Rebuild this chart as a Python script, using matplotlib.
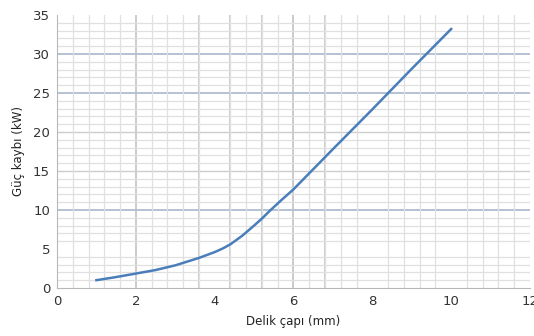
import matplotlib
matplotlib.use("Agg")
import matplotlib.pyplot as plt
from matplotlib.ticker import MultipleLocator

# hole diameter (mm) vs. power loss (kW)
diameter_mm = [1, 1.5, 2, 2.5, 3, 3.6, 4, 4.2, 4.4, 4.7, 5, 5.2, 5.4, 5.7, 6, 7, 8, 9, 10]
power_kw = [1.0, 1.4, 1.85, 2.3, 2.9, 3.85, 4.6, 5.05, 5.6, 6.7, 8.0, 8.9, 9.9, 11.3, 12.65,
            17.8, 22.9, 28.1, 33.2]

x_ticks = [0, 2, 4, 6, 8, 10, 12]
y_ticks = [0, 5, 10, 15, 20, 25, 30, 35]

plt.rcParams["font.family"] = ["DejaVu Sans"]

fig = plt.figure(figsize=(5.34, 3.36), dpi=100)
ax = fig.add_axes([0.1067, 0.1429, 0.8858, 0.8125])

# graph-paper style grid
ax.xaxis.set_minor_locator(MultipleLocator(0.4))
ax.yaxis.set_minor_locator(MultipleLocator(1))
ax.grid(which="minor", color="#e0e0e0", linewidth=0.9)
ax.grid(which="major", visible=False)
for xv in [2, 3.6, 4.4, 5.2, 6, 6.8]:
    ax.axvline(xv, color="#c2c2c2", linewidth=1.2, zorder=1)
for yv in [15, 20]:
    ax.axhline(yv, color="#cccccc", linewidth=1.0, zorder=1)
for yv in [10, 25, 30]:
    ax.axhline(yv, color="#b3c2d4", linewidth=1.4, zorder=1)

ax.plot(diameter_mm, power_kw, color="#4a7ebb", linewidth=1.8, zorder=3)

ax.set_xlim(0, 12)
ax.set_ylim(0, 35)
ax.set_xticks(x_ticks)
ax.set_yticks(y_ticks)
ax.tick_params(which="both", length=0, labelsize=9.5, colors="#333333", pad=5)

for side in ["top", "right"]:
    ax.spines[side].set_visible(False)
for side in ["left", "bottom"]:
    ax.spines[side].set_color("#b8b8b8")

ax.set_xlabel("Delik çapı (mm)", fontsize=8.5, color="#222222", labelpad=5)
ax.set_ylabel("Güç kaybı (kW)", fontsize=8.5, color="#222222", labelpad=6)

fig.savefig("out.png", dpi=100)
